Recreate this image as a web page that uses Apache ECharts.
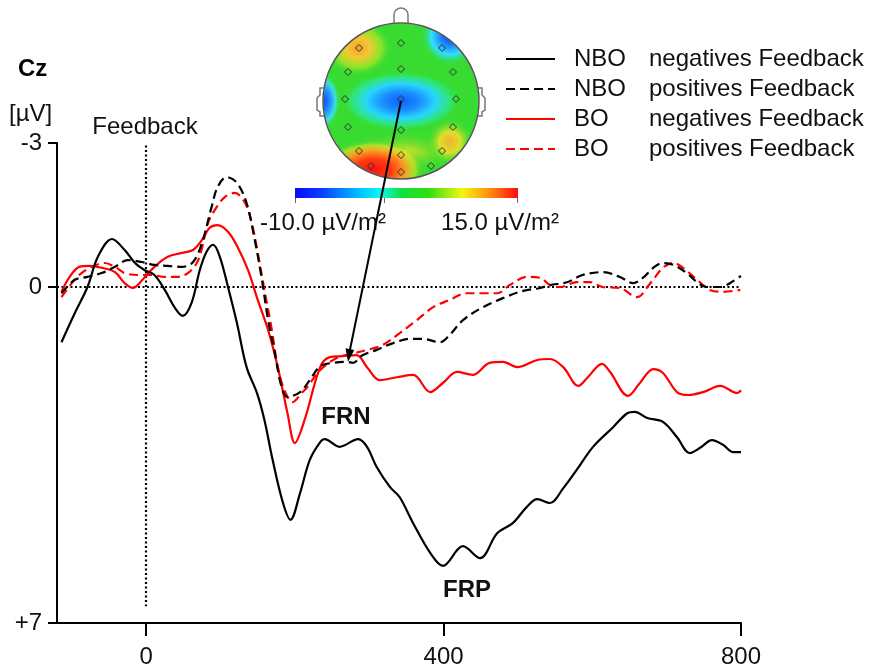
<!DOCTYPE html>
<html><head><meta charset="utf-8">
<script src="https://cdn.jsdelivr.net/npm/echarts@6/dist/echarts.min.js"></script>
<style>html,body{margin:0;padding:0;background:#fff}#c{width:869px;height:670px}</style>
</head><body><div id="c"></div>
<script>
// ---- data (time in ms, amplitude in µV; negative plotted upward) ----
const seriesGroups = ['NBO', 'NBO', 'BO', 'BO'];
const seriesConds = ['negatives Feedback', 'positives Feedback', 'negatives Feedback', 'positives Feedback'];
const xTickValues = [0, 400, 800];
const yTickValues = [-3, 0, 7];

const nboNegT = [-114,-96,-79,-65,-46,-29,-15,-2,11,25,38,49,61,72,81,90,99,110,122,135,149,159,170,184,194,207,220,234,240,260,285,297,310,328,341,359,382,399,426,449,472,493,512,526,543,561,579,601,628,647,657,674,695,714,731,745,761,776,789,800];
const nboNegV = [1.15,0.54,0,-0.63,-1.0,-0.77,-0.5,-0.35,-0.25,0.06,0.42,0.6,0.33,-0.35,-0.73,-0.88,-0.63,0,0.75,1.67,2.21,2.77,3.6,4.5,4.85,4.29,3.6,3.23,3.17,3.33,3.17,3.33,3.75,4.17,4.38,4.92,5.54,5.81,5.4,5.65,5.13,4.92,4.58,4.42,4.5,4.19,3.81,3.33,2.92,2.63,2.6,2.73,2.81,3.13,3.46,3.35,3.19,3.29,3.44,3.44];

const nboPosT = [-114,-96,-79,-60,-42,-25,-6,11,29,48,63,75,88,96,108,122,135,146,155,164,173,182,190,207,220,234,251,270,278,291,310,332,355,372,395,408,426,453,480,507,530,543,566,587,614,637,655,668,682,695,709,727,741,754,772,785,800];
const nboPosV = [0.13,-0.15,-0.21,-0.29,-0.42,-0.56,-0.52,-0.46,-0.44,-0.42,-0.52,-0.92,-1.67,-2.08,-2.29,-2.17,-1.75,-0.98,-0.21,0.69,1.38,2.08,2.29,2.19,1.94,1.65,1.58,1.56,1.58,1.42,1.31,1.17,1.08,1.08,1.15,1.0,0.69,0.42,0.23,0.08,0.02,-0.04,-0.1,-0.25,-0.31,-0.21,-0.08,-0.19,-0.4,-0.5,-0.46,-0.29,-0.1,0,0,-0.08,-0.23];

const boNegT = [-114,-103,-90,-76,-60,-42,-29,-18,-5,11,29,48,63,75,85,96,110,123,137,150,164,177,190,200,213,234,247,264,283,297,314,337,359,382,399,418,439,462,480,499,526,543,561,581,594,613,624,648,664,682,695,714,729,749,772,795,800];
const boNegV = [0.1,-0.21,-0.42,-0.44,-0.4,-0.31,-0.08,0.02,-0.15,-0.42,-0.63,-0.71,-0.77,-0.98,-1.23,-1.29,-1.15,-0.83,-0.35,0.27,0.9,1.67,2.63,3.25,2.77,1.67,1.46,1.44,1.42,1.67,1.94,1.88,1.83,2.19,2.0,1.77,1.83,1.58,1.56,1.67,1.52,1.5,1.67,2.06,1.88,1.6,1.77,2.27,2.0,1.71,1.79,2.19,2.25,2.19,2.06,2.21,2.15];

const boPosT = [-114,-100,-87,-73,-56,-42,-29,-11,7,25,42,56,68,75,83,95,106,119,133,142,150,159,169,177,186,197,209,216,234,256,274,297,318,341,364,386,408,431,453,472,489,512,530,543,557,579,597,614,637,660,678,695,709,722,741,758,776,799];
const boPosV = [0.21,-0.08,-0.29,-0.42,-0.5,-0.42,-0.29,-0.25,-0.25,-0.21,-0.21,-0.29,-0.5,-0.81,-1.33,-1.67,-1.88,-1.96,-1.75,-1.33,-0.71,0.06,0.9,1.67,2.15,2.4,2.21,2.1,1.73,1.48,1.4,1.31,1.21,0.96,0.69,0.42,0.27,0.13,0.13,0.13,-0.04,-0.21,-0.19,-0.04,0,-0.1,-0.1,0,0.02,0.21,-0.08,-0.4,-0.5,-0.4,-0.15,0.06,0.1,0.06];

// topomap electrode layout (decorative head map)
const electrodes = [[359,48],[401,43],[442,48],[348,72],[401,69],[453,72],[345,99],[401,99],[456,99],[348,127],[401,130],[453,127],[359,151],[401,155],[442,151],[371,166],[401,172],[431,166]];

// ---- chart ----
const FONT = '"Liberation Sans", Arial, sans-serif';
const FS = 24;
const pairs = (t, v) => t.map((x, i) => [x, v[i]]);
const names = seriesGroups.map((g, i) => g + ' ' + seriesConds[i]);
const colors = ['#000', '#000', '#ff0000', '#ff0000'];
const dashes = ['solid', [9, 5], 'solid', [9, 5]];
const datas = [pairs(nboNegT, nboNegV), pairs(nboPosT, nboPosV), pairs(boNegT, boNegV), pairs(boPosT, boPosV)];

const series = names.map((n, i) => ({
  type: 'line', name: n, data: datas[i], symbol: 'none', smooth: 0.35,
  lineStyle: { color: colors[i], width: 2.2, type: dashes[i] },
  itemStyle: { color: colors[i] }, z: 10 - i, silent: true
}));
series[0].markLine = {
  silent: true, symbol: 'none', label: { show: false },
  lineStyle: { color: '#000', width: 2.2, type: [2, 2.5] },
  data: [
    { yAxis: 0 },
    [{ coord: [0, -2.95] }, { coord: [0, 6.65] }]
  ]
};

const jetStops = [
  { offset: 0, color: '#0a0aff' }, { offset: 0.12, color: '#0a40ff' },
  { offset: 0.3, color: '#00c8ff' }, { offset: 0.38, color: '#10f5f0' },
  { offset: 0.48, color: '#10e040' }, { offset: 0.6, color: '#30e010' },
  { offset: 0.75, color: '#f5f510' }, { offset: 0.87, color: '#ff9010' },
  { offset: 1, color: '#ff0a0a' }
];
function blob(cx, cy, r, sx, sy, stops, z) {
  return {
    type: 'circle', x: cx, y: cy, scaleX: sx, scaleY: sy,
    shape: { cx: 0, cy: 0, r: r },
    style: { fill: { type: 'radial', x: 0.5, y: 0.5, r: 0.5, colorStops: stops } },
    z: z || 1, silent: true
  };
}
const G0 = 'rgba(50,220,50,0)';
const txt = (x, y, s, opt) => Object.assign({ type: 'text', x: x, y: y, z: 8,
  style: Object.assign({ text: s, font: FS + 'px ' + FONT, fill: '#111', textAlign: 'center', textVerticalAlign: 'middle' }, opt || {}) });
const graphics = [
  // head base
  { type: 'circle', shape: { cx: 401, cy: 101, r: 78 }, style: { fill: '#38dc30' }, z: 1, silent: true },
  blob(405, 152, 32, 1.8, 0.7, [{ offset: 0, color: 'rgba(240,225,40,0.95)' }, { offset: 1, color: G0 }], 2),
  blob(450, 142, 24, 1, 1, [{ offset: 0, color: '#f4b030' }, { offset: 0.45, color: 'rgba(235,225,40,0.9)' }, { offset: 1, color: G0 }], 2),
  blob(373, 170, 38, 1.35, 0.8, [{ offset: 0, color: '#ff1010' }, { offset: 0.35, color: '#ff3a10' }, { offset: 0.6, color: '#ff9020' }, { offset: 0.82, color: 'rgba(240,225,40,0.6)' }, { offset: 1, color: G0 }], 3),
  blob(358, 48, 28, 1.2, 1, [{ offset: 0, color: '#f5a030' }, { offset: 0.35, color: '#f2c830' }, { offset: 0.7, color: 'rgba(200,230,40,0.6)' }, { offset: 1, color: G0 }], 2),
  blob(401, 101, 50, 1.2, 0.6, [{ offset: 0, color: '#1060ff' }, { offset: 0.3, color: '#1a8cff' }, { offset: 0.58, color: '#28d5ff' }, { offset: 0.82, color: 'rgba(40,235,170,0.6)' }, { offset: 1, color: G0 }], 3),
  blob(450, 36, 30, 1, 1, [{ offset: 0, color: '#1030ff' }, { offset: 0.35, color: '#1e90ff' }, { offset: 0.62, color: '#30e0ff' }, { offset: 1, color: G0 }], 3),
  blob(323, 101, 18, 1, 1.6, [{ offset: 0, color: '#1040ff' }, { offset: 0.4, color: '#2090ff' }, { offset: 0.7, color: '#40e0e0' }, { offset: 1, color: G0 }], 3),
  // mask outside head
  { type: 'ring', shape: { cx: 401, cy: 101, r: 112, r0: 77.5 }, style: { fill: '#fff' }, z: 5, silent: true },
  { type: 'circle', shape: { cx: 401, cy: 101, r: 78 }, style: { fill: 'none', stroke: '#555', lineWidth: 1.5 }, z: 6, silent: true },
  // nose and ears
  { type: 'arc', shape: { cx: 401, cy: 15, r: 7, startAngle: Math.PI, endAngle: Math.PI * 2 }, style: { fill: 'none', stroke: '#777', lineWidth: 1.5 }, z: 6, silent: true },
  { type: 'line', shape: { x1: 394, y1: 15, x2: 394, y2: 23.5 }, style: { stroke: '#777', lineWidth: 1.5 }, z: 6, silent: true },
  { type: 'line', shape: { x1: 408, y1: 15, x2: 408, y2: 23.5 }, style: { stroke: '#777', lineWidth: 1.5 }, z: 6, silent: true },
  { type: 'polyline', shape: { points: [[324, 88], [320, 88], [320, 95], [317, 98], [317, 110], [320, 112], [320, 116], [324, 116]] }, style: { fill: 'none', stroke: '#777', lineWidth: 1.5 }, z: 6, silent: true },
  { type: 'polyline', shape: { points: [[478, 88], [482, 88], [482, 95], [485, 98], [485, 110], [482, 112], [482, 116], [478, 116]] }, style: { fill: 'none', stroke: '#777', lineWidth: 1.5 }, z: 6, silent: true },
  // colour bar
  { type: 'rect', shape: { x: 295, y: 188, width: 223, height: 10 }, style: { fill: { type: 'linear', x: 0, y: 0, x2: 1, y2: 0, colorStops: jetStops } }, z: 6, silent: true },
  { type: 'line', shape: { x1: 295.5, y1: 198, x2: 295.5, y2: 203 }, style: { stroke: '#666', lineWidth: 1 }, z: 6 },
  { type: 'line', shape: { x1: 384.5, y1: 198, x2: 384.5, y2: 203 }, style: { stroke: '#666', lineWidth: 1 }, z: 6 },
  { type: 'line', shape: { x1: 517.5, y1: 198, x2: 517.5, y2: 203 }, style: { stroke: '#666', lineWidth: 1 }, z: 6 },
  txt(323, 223, '-10.0 µV/m²'),
  txt(500, 223, '15.0 µV/m²'),
  // arrow from Cz to the FRN
  { type: 'line', shape: { x1: 401, y1: 101, x2: 349.5, y2: 352 }, style: { stroke: '#000', lineWidth: 2 }, z: 20 },
  { type: 'polygon', shape: { points: [[348, 362], [354.3, 350], [345.5, 348.2]] }, style: { fill: '#000' }, z: 20 },
  // texts
  txt(18, 69, 'Cz', { textAlign: 'left', fill: '#000', font: 'bold ' + FS + 'px ' + FONT }),
  txt(9, 114, '[µV]', { textAlign: 'left' }),
  txt(145, 127, 'Feedback'),
  txt(346, 417, 'FRN', { font: 'bold ' + FS + 'px ' + FONT }),
  txt(467, 590, 'FRP', { font: 'bold ' + FS + 'px ' + FONT })
];
electrodes.forEach(p => graphics.push({
  type: 'polygon', shape: { points: [[p[0], p[1] - 3.5], [p[0] + 3.5, p[1]], [p[0], p[1] + 3.5], [p[0] - 3.5, p[1]]] },
  style: { fill: 'none', stroke: '#333', lineWidth: 1 }, z: 7, silent: true
}));

const chart = echarts.init(document.getElementById('c'), null, { renderer: 'canvas' });
chart.setOption({
  animation: false,
  backgroundColor: '#fff',
  textStyle: { fontFamily: FONT },
  grid: { left: 57, right: 128, top: 143, bottom: 47, containLabel: false },
  xAxis: {
    type: 'value', min: -120, max: 800,
    axisLine: { onZero: false, lineStyle: { color: '#000', width: 2 } },
    axisTick: { customValues: xTickValues, length: 13, lineStyle: { color: '#000', width: 2 } },
    axisLabel: { customValues: xTickValues, fontSize: FS, color: '#111', margin: 22, fontFamily: FONT },
    splitLine: { show: false }
  },
  yAxis: {
    type: 'value', min: -3, max: 7, inverse: true,
    axisLine: { show: true, onZero: false, lineStyle: { color: '#000', width: 2 } },
    axisTick: { show: true, customValues: yTickValues, length: 9, lineStyle: { color: '#000', width: 2 } },
    axisLabel: { customValues: yTickValues, fontSize: FS, color: '#111', margin: 15, fontFamily: FONT,
      formatter: v => (v > 0 ? '+' + v : String(v)) },
    splitLine: { show: false }
  },
  legend: {
    orient: 'vertical', left: 505, top: 47, padding: 0, itemWidth: 49, itemHeight: 14, itemGap: 6, z: 30,
    data: names,
    itemStyle: { opacity: 0 },
    textStyle: {
      fontSize: FS, lineHeight: 24, color: '#111', fontFamily: FONT,
      rich: { a: { fontSize: FS, lineHeight: 24, width: 75, padding: [0, 0, 0, 14], fontFamily: FONT, color: '#111' },
              b: { fontSize: FS, lineHeight: 24, fontFamily: FONT, color: '#111' } }
    },
    formatter: n => { const i = n.indexOf(' '); return '{a|' + n.slice(0, i) + '}{b|' + n.slice(i + 1) + '}'; }
  },
  graphic: { elements: graphics },
  series: series
});
</script></body></html>
